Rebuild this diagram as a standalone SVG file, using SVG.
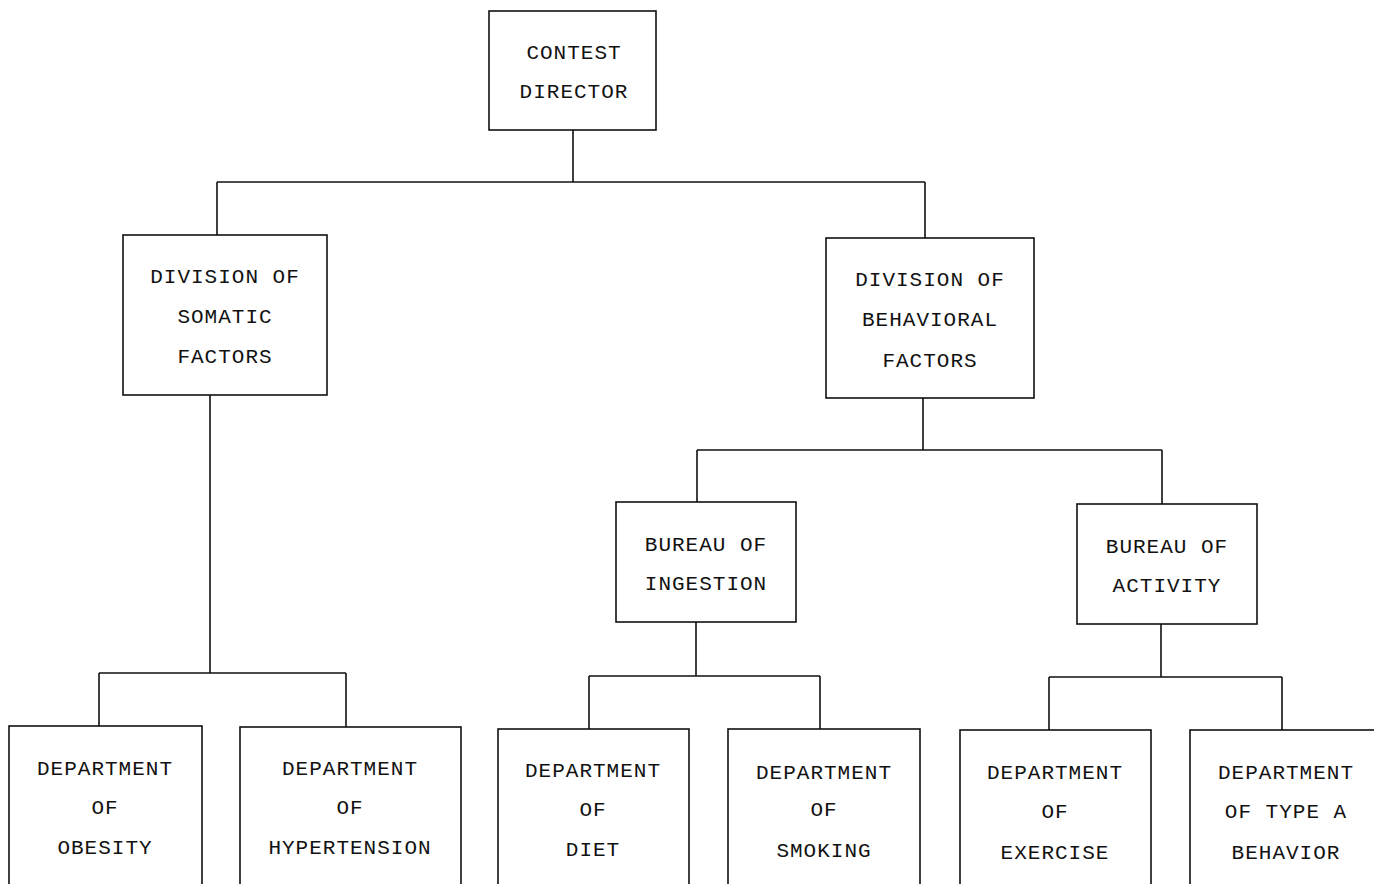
<svg xmlns="http://www.w3.org/2000/svg" width="1374" height="884" viewBox="0 0 1374 884">
<style>
.box{fill:#fff;stroke:#111;stroke-width:1.6}
.lbl{font-family:"Liberation Mono","DejaVu Sans Mono",monospace;font-size:21px;letter-spacing:1px;fill:#111;text-anchor:middle}
.con{fill:none;stroke:#111;stroke-width:1.6}
</style>
<rect width="1374" height="884" fill="#fff"/>
<g id="connectors" class="con">
<path d="M573,130 V182 M217,182 H925 M217,182 V235 M925,182 V238"/>
<path d="M210,395 V673 M99,673 H346 M99,673 V726 M346,673 V727"/>
<path d="M923,398 V450 M697,450 H1162 M697,450 V502 M1162,450 V504"/>
<path d="M696,622 V676 M589,676 H820 M589,676 V729 M820,676 V729"/>
<path d="M1161,624 V677 M1049,677 H1282 M1049,677 V730 M1282,677 V730"/>
</g>
<g id="contest-director"><rect class="box" x="489" y="11" width="167" height="119"/><text class="lbl" x="574" y="59">CONTEST</text><text class="lbl" x="574" y="98">DIRECTOR</text></g>
<g id="div-somatic"><rect class="box" x="123" y="235" width="204" height="160"/><text class="lbl" x="225" y="283">DIVISION OF</text><text class="lbl" x="225" y="323">SOMATIC</text><text class="lbl" x="225" y="363">FACTORS</text></g>
<g id="div-behavioral"><rect class="box" x="826" y="238" width="208" height="160"/><text class="lbl" x="930" y="286">DIVISION OF</text><text class="lbl" x="930" y="326">BEHAVIORAL</text><text class="lbl" x="930" y="367">FACTORS</text></g>
<g id="bureau-ingestion"><rect class="box" x="616" y="502" width="180" height="120"/><text class="lbl" x="706" y="551">BUREAU OF</text><text class="lbl" x="706" y="590">INGESTION</text></g>
<g id="bureau-activity"><rect class="box" x="1077" y="504" width="180" height="120"/><text class="lbl" x="1167" y="553">BUREAU OF</text><text class="lbl" x="1167" y="592">ACTIVITY</text></g>
<g id="dept-obesity"><rect class="box" x="9" y="726" width="193" height="170"/><text class="lbl" x="105" y="775">DEPARTMENT</text><text class="lbl" x="105" y="814">OF</text><text class="lbl" x="105" y="854">OBESITY</text></g>
<g id="dept-hypertension"><rect class="box" x="240" y="727" width="221" height="170"/><text class="lbl" x="350" y="775">DEPARTMENT</text><text class="lbl" x="350" y="814">OF</text><text class="lbl" x="350" y="854">HYPERTENSION</text></g>
<g id="dept-diet"><rect class="box" x="498" y="729" width="191" height="170"/><text class="lbl" x="593" y="777">DEPARTMENT</text><text class="lbl" x="593" y="816">OF</text><text class="lbl" x="593" y="856">DIET</text></g>
<g id="dept-smoking"><rect class="box" x="728" y="729" width="192" height="170"/><text class="lbl" x="824" y="779">DEPARTMENT</text><text class="lbl" x="824" y="816">OF</text><text class="lbl" x="824" y="857">SMOKING</text></g>
<g id="dept-exercise"><rect class="box" x="960" y="730" width="191" height="170"/><text class="lbl" x="1055" y="779">DEPARTMENT</text><text class="lbl" x="1055" y="818">OF</text><text class="lbl" x="1055" y="859">EXERCISE</text></g>
<g id="dept-typea"><rect class="box" x="1190" y="730" width="200" height="170"/><text class="lbl" x="1286" y="779">DEPARTMENT</text><text class="lbl" x="1286" y="818">OF TYPE A</text><text class="lbl" x="1286" y="859">BEHAVIOR</text></g>
</svg>
